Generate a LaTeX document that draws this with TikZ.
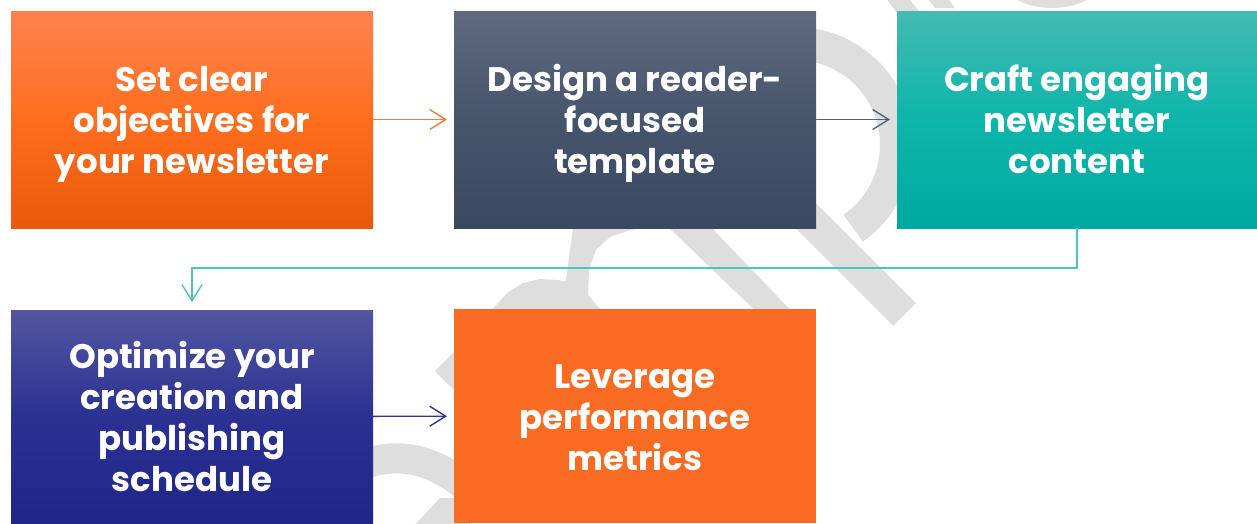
\documentclass[tikz,border=0pt]{standalone}
\usepackage{fontspec}
\setmainfont{Poppins}
\usetikzlibrary{arrows.meta}
\definecolor{oTop}{HTML}{FE8250}
\definecolor{oMid}{HTML}{FF6E1E}
\definecolor{oBot}{HTML}{E8590A}
\definecolor{sTop}{HTML}{5F6A7D}
\definecolor{sMid}{HTML}{46546C}
\definecolor{sBot}{HTML}{3A4962}
\definecolor{tTop}{HTML}{45BAB2}
\definecolor{tMid}{HTML}{0DB5AA}
\definecolor{tBot}{HTML}{00A9A0}
\definecolor{nTop}{HTML}{5256A0}
\definecolor{nMid}{HTML}{2B3191}
\definecolor{nBot}{HTML}{1F2688}
\definecolor{flatO}{HTML}{F96B22}
\definecolor{wmgray}{HTML}{DEDEDE}
\definecolor{aOr}{HTML}{F47A3C}
\definecolor{aSl}{HTML}{56627A}
\definecolor{aTe}{HTML}{4FC3BD}
\definecolor{aNv}{HTML}{2E3594}
\newcommand{\boxlines}[1]{\raisebox{0pt}[\dimexpr\height+10pt\relax][\depth]{\begin{tabular}{@{}c@{}}#1\end{tabular}}}
\begin{document}
\begin{tikzpicture}[x=1pt,y=-1pt,
  box/.style={minimum width=362pt, minimum height=217pt, inner sep=0pt, outer sep=0pt,
    align=center, text=white, font=\bfseries\fontsize{34}{41}\selectfont},
  wm/.style={draw=none, fill=wmgray},
  wml/.style={draw=wmgray, line cap=butt},
  arr/.style={line width=1.4pt, -{Straight Barb[length=16pt,width=20pt,line width=1.4pt]}, shorten >=7pt}
]
\useasboundingbox (0,0) rectangle (1257,523);
\fill[white] (0,0) rectangle (1257,523);
% watermark
\begin{scope}
\clip (0,0) rectangle (1257,523);
\draw[wml, line width=33pt] ([shift={(-100:101.5)}]795,145) arc[start angle=-100, end angle=55, radius=101.5];
\draw[wml, line width=32pt] (770,180) -- (904.5,314.5);
\fill[wm] (640,200) -- (685,200) -- (800,320) -- (765,320) -- cycle;
\fill[wm] (568,200) -- (573,228) -- (570,250) -- (566,281) -- (557,280) -- (540,279) -- (523,283) -- (507,293) -- (490,312) -- (490,320) -- (610,320) -- (600,309) -- (588,295) -- (589,270) -- (596,250) -- (610,237) -- (630,230) -- (655,226) -- (655,200) -- cycle;
\fill[wm] (435,371) -- (475,331) -- (515,371) -- (475,411) -- cycle;
\draw[wml, line width=30pt] (350,470) .. controls (390,450) and (430,455) .. (470,490);
\fill[wm] (410,530) -- (440,498) -- (470,498) -- (470,530) -- cycle;
\fill[wm] (884,-5) -- (906,-5) -- (922,15) -- (898,15) -- cycle;
\fill[wm] (925,-5) -- (945,-5) -- (955,8) -- (935,8) -- cycle;
\fill[wm] (1052,-28) ellipse [x radius=55, y radius=36];
\end{scope}
% boxes
\node[box, top color=oTop, bottom color=oBot, middle color=oMid] (b1) at (192,119.5) {\boxlines{Set clear\\objectives for\\your newsletter}};
\node[box, top color=sTop, bottom color=sBot, middle color=sMid] (b2) at (635,119.5) {\boxlines{Design a reader-\\focused\\template}};
\node[box, minimum width=360pt, top color=tTop, bottom color=tBot, middle color=tMid] (b3) at (1077,119.5) {\boxlines{Craft engaging\\newsletter\\content}};
\node[box, minimum height=213pt, top color=nTop, bottom color=nBot, middle color=nMid] (b4) at (192,416.5) {\boxlines{Optimize your\\creation and\\publishing\\schedule}};
\node[box, minimum height=214pt, fill=flatO] (b5) at (635,416) {\boxlines{Leverage\\performance\\metrics}};
% connectors
\draw[arr, aOr] (b1) -- (b2);
\draw[arr, aSl] (b2) -- (b3);
\draw[arr, aTe, shorten >=8pt] (b3.south) -- ++(0,40) -| (b4.north);
\draw[arr, aNv] (b4) -- (b5);
\end{tikzpicture}
\end{document}
